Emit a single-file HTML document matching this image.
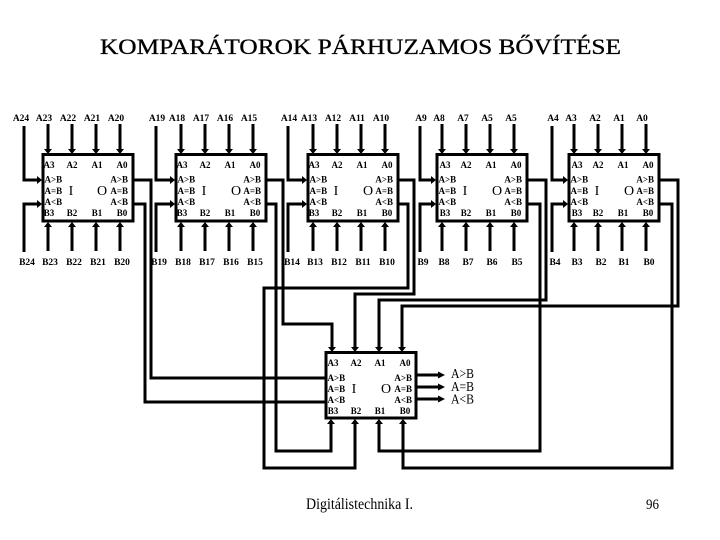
<!DOCTYPE html>
<html><head><meta charset="utf-8"><style>
html,body{margin:0;padding:0;background:#fff}
svg{display:block}
text{font-family:"Liberation Serif",serif;fill:#000}
.l{font-size:9.5px;font-weight:bold;text-anchor:middle}
.b{font-size:9px;font-weight:bold}
.m{text-anchor:middle}
.e{text-anchor:end}
.s{font-size:14px;font-weight:normal}
.w{fill:none;stroke:#000;stroke-width:3}
</style></head><body>
<svg xmlns="http://www.w3.org/2000/svg" width="720" height="540" viewBox="0 0 720 540">
<defs>
<marker id="a" markerUnits="userSpaceOnUse" markerWidth="8" markerHeight="10" refX="0" refY="4.5" orient="auto"><polygon points="0,0.5 5,4.5 0,8.5" fill="#000"/></marker>
<marker id="c" markerUnits="userSpaceOnUse" markerWidth="9" markerHeight="10" refX="0" refY="4.5" orient="auto"><polygon points="0,1 7,4.5 0,8" fill="#000"/></marker>
</defs>
<rect width="720" height="540" fill="#fff"/>
<text x="100" y="54" font-size="22" textLength="521" lengthAdjust="spacingAndGlyphs" stroke="#000" stroke-width="0.3">KOMPARÁTOROK PÁRHUZAMOS BŐVÍTÉSE</text>

<!-- top labels -->
<g class="top">
<text class="l" x="21" y="121">A24</text><text class="l" x="44" y="121">A23</text><text class="l" x="68" y="121">A22</text><text class="l" x="92" y="121">A21</text><text class="l" x="116" y="121">A20</text>
<text class="l" x="157" y="121">A19</text><text class="l" x="177" y="121">A18</text><text class="l" x="201" y="121">A17</text><text class="l" x="225" y="121">A16</text><text class="l" x="249" y="121">A15</text>
<text class="l" x="289" y="121">A14</text><text class="l" x="309" y="121">A13</text><text class="l" x="333" y="121">A12</text><text class="l" x="357" y="121">A11</text><text class="l" x="381" y="121">A10</text>
<text class="l" x="421" y="121">A9</text><text class="l" x="439" y="121">A8</text><text class="l" x="463" y="121">A7</text><text class="l" x="487" y="121">A5</text><text class="l" x="511" y="121">A5</text>
<text class="l" x="553" y="121">A4</text><text class="l" x="571" y="121">A3</text><text class="l" x="595" y="121">A2</text><text class="l" x="619" y="121">A1</text><text class="l" x="642" y="121">A0</text>
</g>
<!-- bottom labels -->
<g>
<text class="l" x="27" y="265">B24</text><text class="l" x="50" y="265">B23</text><text class="l" x="74" y="265">B22</text><text class="l" x="98" y="265">B21</text><text class="l" x="122" y="265">B20</text>
<text class="l" x="159" y="265">B19</text><text class="l" x="183" y="265">B18</text><text class="l" x="207" y="265">B17</text><text class="l" x="231" y="265">B16</text><text class="l" x="255" y="265">B15</text>
<text class="l" x="292" y="265">B14</text><text class="l" x="315" y="265">B13</text><text class="l" x="339" y="265">B12</text><text class="l" x="363" y="265">B11</text><text class="l" x="387" y="265">B10</text>
<text class="l" x="423" y="265">B9</text><text class="l" x="444" y="265">B8</text><text class="l" x="468" y="265">B7</text><text class="l" x="492" y="265">B6</text><text class="l" x="517" y="265">B5</text>
<text class="l" x="555" y="265">B4</text><text class="l" x="577" y="265">B3</text><text class="l" x="601" y="265">B2</text><text class="l" x="624" y="265">B1</text><text class="l" x="649" y="265">B0</text>
</g>

<!-- input wires -->
<g class="w">
<path marker-end="url(#a)" d="M48 124V149"/><path marker-end="url(#a)" d="M72 124V149"/><path marker-end="url(#a)" d="M96 124V149"/><path marker-end="url(#a)" d="M120 124V149"/>
<path marker-end="url(#a)" d="M181 124V149"/><path marker-end="url(#a)" d="M205 124V149"/><path marker-end="url(#a)" d="M229 124V149"/><path marker-end="url(#a)" d="M253 124V149"/>
<path marker-end="url(#a)" d="M313 124V149"/><path marker-end="url(#a)" d="M337 124V149"/><path marker-end="url(#a)" d="M361 124V149"/><path marker-end="url(#a)" d="M385 124V149"/>
<path marker-end="url(#a)" d="M442 124V149"/><path marker-end="url(#a)" d="M466 124V149"/><path marker-end="url(#a)" d="M490 124V149"/><path marker-end="url(#a)" d="M514 124V149"/>
<path marker-end="url(#a)" d="M574 124V149"/><path marker-end="url(#a)" d="M598 124V149"/><path marker-end="url(#a)" d="M622 124V149"/><path marker-end="url(#a)" d="M646 124V149"/>

<path marker-end="url(#a)" d="M48 251V227"/><path marker-end="url(#a)" d="M72 251V227"/><path marker-end="url(#a)" d="M96 251V227"/><path marker-end="url(#a)" d="M120 251V227"/>
<path marker-end="url(#a)" d="M181 251V227"/><path marker-end="url(#a)" d="M205 251V227"/><path marker-end="url(#a)" d="M229 251V227"/><path marker-end="url(#a)" d="M253 251V227"/>
<path marker-end="url(#a)" d="M313 251V227"/><path marker-end="url(#a)" d="M337 251V227"/><path marker-end="url(#a)" d="M361 251V227"/><path marker-end="url(#a)" d="M385 251V227"/>
<path marker-end="url(#a)" d="M442 251V227"/><path marker-end="url(#a)" d="M466 251V227"/><path marker-end="url(#a)" d="M490 251V227"/><path marker-end="url(#a)" d="M514 251V227"/>
<path marker-end="url(#a)" d="M574 251V227"/><path marker-end="url(#a)" d="M598 251V227"/><path marker-end="url(#a)" d="M622 251V227"/><path marker-end="url(#a)" d="M646 251V227"/>

<path marker-end="url(#a)" d="M24 126V180H37"/><path marker-end="url(#a)" d="M24 252V204H37"/>
<path marker-end="url(#a)" d="M156 126V180H170"/><path marker-end="url(#a)" d="M156 252V204H170"/>
<path marker-end="url(#a)" d="M288 126V180H302"/><path marker-end="url(#a)" d="M288 252V204H302"/>
<path marker-end="url(#a)" d="M420 126V180H431"/><path marker-end="url(#a)" d="M420 252V204H431"/>
<path marker-end="url(#a)" d="M552 126V180H563"/><path marker-end="url(#a)" d="M552 252V204H563"/>

<!-- cascade routes -->
<path d="M133 180H151V378H325"/>
<path d="M133 204H145V402H325"/>
<path marker-end="url(#a)" d="M266 180H283V324H332V347"/>
<path marker-end="url(#a)" d="M266 204H276V451H331V424"/>
<path marker-end="url(#a)" d="M398 204H408V288H264V468H355V424"/>
<path marker-end="url(#a)" d="M398 180H414V294H355V347"/>
<path marker-end="url(#a)" d="M527 180H546V300H379V347"/>
<path marker-end="url(#a)" d="M527 204H540V451H379V424"/>
<path marker-end="url(#a)" d="M659 180H678V306H402V347"/>
<path marker-end="url(#a)" d="M659 204H672V468H403V424"/>
<path marker-end="url(#c)" d="M416 375H438"/>
<path marker-end="url(#c)" d="M416 387H438"/>
<path marker-end="url(#c)" d="M416 399H438"/>
</g>

<!-- box 1 -->
<g transform="translate(42,154)">
<rect x="1" y="0.5" width="90" height="66.5" fill="#fff" stroke="#000" stroke-width="3"/>
<text class="b m" x="7" y="14">A3</text><text class="b m" x="30" y="14">A2</text><text class="b m" x="55" y="14">A1</text><text class="b m" x="80" y="14">A0</text>
<text class="b" x="2.5" y="28.5">A&gt;B</text><text class="b" x="2.5" y="40">A=B</text><text class="b" x="2.5" y="51">A&lt;B</text>
<text class="b e" x="86" y="28.5">A&gt;B</text><text class="b e" x="86" y="40">A=B</text><text class="b e" x="86" y="51">A&lt;B</text>
<text class="b m" x="7" y="62">B3</text><text class="b m" x="30" y="62">B2</text><text class="b m" x="55" y="62">B1</text><text class="b m" x="80" y="62">B0</text>
<text class="s m" x="29" y="41">I</text><text class="s m" x="60" y="41">O</text>
</g>
<!-- box 2 -->
<g transform="translate(175,154)">
<rect x="1" y="0.5" width="90" height="66.5" fill="#fff" stroke="#000" stroke-width="3"/>
<text class="b m" x="7" y="14">A3</text><text class="b m" x="30" y="14">A2</text><text class="b m" x="55" y="14">A1</text><text class="b m" x="80" y="14">A0</text>
<text class="b" x="2.5" y="28.5">A&gt;B</text><text class="b" x="2.5" y="40">A=B</text><text class="b" x="2.5" y="51">A&lt;B</text>
<text class="b e" x="86" y="28.5">A&gt;B</text><text class="b e" x="86" y="40">A=B</text><text class="b e" x="86" y="51">A&lt;B</text>
<text class="b m" x="7" y="62">B3</text><text class="b m" x="30" y="62">B2</text><text class="b m" x="55" y="62">B1</text><text class="b m" x="80" y="62">B0</text>
<text class="s m" x="29" y="41">I</text><text class="s m" x="61" y="41">O</text>
</g>
<!-- box 3 -->
<g transform="translate(307,154)">
<rect x="1" y="0.5" width="90" height="66.5" fill="#fff" stroke="#000" stroke-width="3"/>
<text class="b m" x="7" y="14">A3</text><text class="b m" x="30" y="14">A2</text><text class="b m" x="55" y="14">A1</text><text class="b m" x="80" y="14">A0</text>
<text class="b" x="2.5" y="28.5">A&gt;B</text><text class="b" x="2.5" y="40">A=B</text><text class="b" x="2.5" y="51">A&lt;B</text>
<text class="b e" x="86" y="28.5">A&gt;B</text><text class="b e" x="86" y="40">A=B</text><text class="b e" x="86" y="51">A&lt;B</text>
<text class="b m" x="7" y="62">B3</text><text class="b m" x="30" y="62">B2</text><text class="b m" x="55" y="62">B1</text><text class="b m" x="80" y="62">B0</text>
<text class="s m" x="29" y="41">I</text><text class="s m" x="61" y="41">O</text>
</g>
<!-- box 4 -->
<g transform="translate(436,154)">
<rect x="1" y="0.5" width="90" height="66.5" fill="#fff" stroke="#000" stroke-width="3"/>
<text class="b m" x="9" y="14">A3</text><text class="b m" x="30" y="14">A2</text><text class="b m" x="55" y="14">A1</text><text class="b m" x="80" y="14">A0</text>
<text class="b" x="2.5" y="28.5">A&gt;B</text><text class="b" x="2.5" y="40">A=B</text><text class="b" x="2.5" y="51">A&lt;B</text>
<text class="b e" x="86" y="28.5">A&gt;B</text><text class="b e" x="86" y="40">A=B</text><text class="b e" x="86" y="51">A&lt;B</text>
<text class="b m" x="9" y="62">B3</text><text class="b m" x="30" y="62">B2</text><text class="b m" x="55" y="62">B1</text><text class="b m" x="80" y="62">B0</text>
<text class="s m" x="29" y="41">I</text><text class="s m" x="61" y="41">O</text>
</g>
<!-- box 5 -->
<g transform="translate(568,154)">
<rect x="1" y="0.5" width="90" height="66.5" fill="#fff" stroke="#000" stroke-width="3"/>
<text class="b m" x="9" y="14">A3</text><text class="b m" x="30" y="14">A2</text><text class="b m" x="55" y="14">A1</text><text class="b m" x="80" y="14">A0</text>
<text class="b" x="2.5" y="28.5">A&gt;B</text><text class="b" x="2.5" y="40">A=B</text><text class="b" x="2.5" y="51">A&lt;B</text>
<text class="b e" x="86" y="28.5">A&gt;B</text><text class="b e" x="86" y="40">A=B</text><text class="b e" x="86" y="51">A&lt;B</text>
<text class="b m" x="9" y="62">B3</text><text class="b m" x="30" y="62">B2</text><text class="b m" x="55" y="62">B1</text><text class="b m" x="80" y="62">B0</text>
<text class="s m" x="29" y="41">I</text><text class="s m" x="61" y="41">O</text>
</g>
<!-- bottom box -->
<g transform="translate(325,352)">
<rect x="1" y="0.5" width="90" height="65.5" fill="#fff" stroke="#000" stroke-width="3"/>
<text class="b m" x="8" y="14">A3</text><text class="b m" x="31" y="14">A2</text><text class="b m" x="55" y="14">A1</text><text class="b m" x="80" y="14">A0</text>
<text class="b" x="2.5" y="29">A&gt;B</text><text class="b" x="2.5" y="40">A=B</text><text class="b" x="2.5" y="51">A&lt;B</text>
<text class="b e" x="87" y="29">A&gt;B</text><text class="b e" x="87" y="40">A=B</text><text class="b e" x="87" y="51">A&lt;B</text>
<text class="b m" x="8" y="62">B3</text><text class="b m" x="31" y="62">B2</text><text class="b m" x="55" y="62">B1</text><text class="b m" x="80" y="62">B0</text>
<text class="s m" x="29" y="41">I</text><text class="s m" x="61" y="41">O</text>
</g>

<text x="451" y="378" font-size="14" textLength="23" lengthAdjust="spacingAndGlyphs">A&gt;B</text>
<text x="451" y="391" font-size="14" textLength="23" lengthAdjust="spacingAndGlyphs">A=B</text>
<text x="451" y="403.5" font-size="14" textLength="23" lengthAdjust="spacingAndGlyphs">A&lt;B</text>
<text x="306" y="509" font-size="15.5" textLength="107" lengthAdjust="spacingAndGlyphs">Digitálistechnika I.</text>
<text x="646" y="509" font-size="15" textLength="13" lengthAdjust="spacingAndGlyphs">96</text>
</svg>
</body></html>
